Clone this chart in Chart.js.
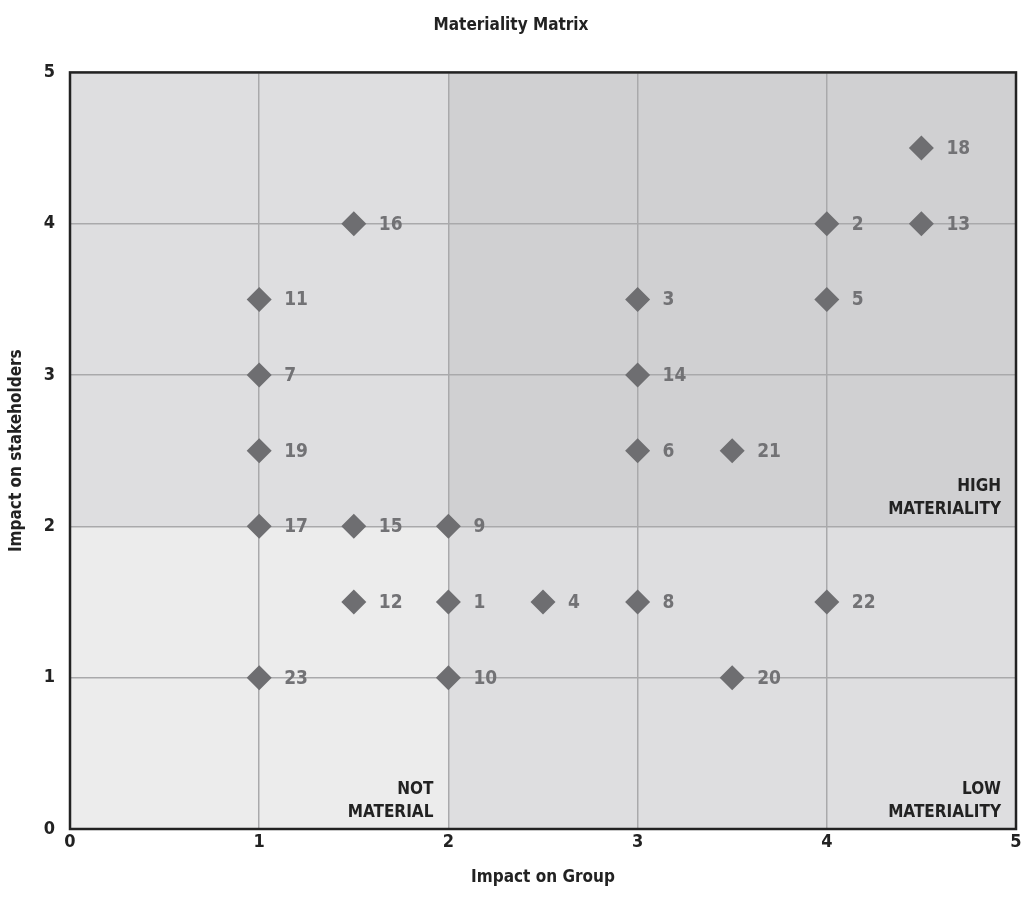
<!DOCTYPE html>
<html>
<head>
<meta charset="utf-8">
<script src="https://cdn.jsdelivr.net/npm/chart.js@4.4.1/dist/chart.umd.min.js"></script>
<style>
  html, body { margin: 0; padding: 0; background: #fff; }
  #wrap { width: 1029px; height: 900px; }
</style>
</head>
<body>
<div id="wrap"><canvas id="matrix"></canvas></div>
<script>
const FONT = '"Liberation Sans Narrow", "DejaVu Sans Condensed", "Roboto", sans-serif';

const issueIds = ['1', '2', '3', '4', '5', '6', '7', '8', '9', '10', '11', '12',
  '13', '14', '15', '16', '17', '18', '19', '20', '21', '22', '23'];
const impactOnGroup = [2, 4, 3, 2.5, 4, 3, 1, 3, 2, 2, 1, 1.5,
  4.5, 3, 1.5, 1.5, 1, 4.5, 1, 3.5, 3.5, 4, 1];
const impactOnStakeholders = [1.5, 4, 3.5, 1.5, 3.5, 2.5, 3, 1.5, 2, 1, 3.5, 1.5,
  4, 3, 2, 4, 2, 4.5, 2.5, 1, 2.5, 1.5, 1];
const tickValues = [0, 1, 2, 3, 4, 5];

// zones: [xMin, xMax, yMin, yMax, colour]
const zones = [
  [0, 2, 0, 2, '#ececec'],
  [0, 2, 2, 5, '#dedee0'],
  [2, 5, 0, 2, '#dedee0'],
  [2, 5, 2, 5, '#d0d0d2']
];
const zoneLabels = [
  { lines: ['HIGH', 'MATERIALITY'], x: 5, y: 2 },
  { lines: ['NOT', 'MATERIAL'], x: 2, y: 0 },
  { lines: ['LOW', 'MATERIALITY'], x: 5, y: 0 }
];

const points = impactOnGroup.map((x, i) => ({ x, y: impactOnStakeholders[i] }));

const matrixPlugin = {
  id: 'matrix',
  beforeDraw(chart) {
    const { ctx, scales: { x, y } } = chart;
    ctx.save();
    zones.forEach(z => {
      const left = x.getPixelForValue(z[0]);
      const right = x.getPixelForValue(z[1]);
      const top = y.getPixelForValue(z[3]);
      const bottom = y.getPixelForValue(z[2]);
      ctx.fillStyle = z[4];
      ctx.fillRect(left, top, right - left, bottom - top);
    });
    ctx.restore();
  },
  afterDatasetsDraw(chart) {
    const { ctx, chartArea, scales: { x, y } } = chart;
    ctx.save();
    // labels next to the markers
    ctx.font = 'bold 19px ' + FONT;
    ctx.fillStyle = '#727275';
    ctx.textBaseline = 'middle';
    ctx.textAlign = 'left';
    const meta = chart.getDatasetMeta(0);
    meta.data.forEach((el, i) => {
      ctx.fillText(issueIds[i], el.x + 25, el.y + 1);
    });
    // zone captions
    ctx.font = 'bold 17px ' + FONT;
    ctx.fillStyle = '#222';
    ctx.textAlign = 'right';
    ctx.textBaseline = 'alphabetic';
    zoneLabels.forEach(z => {
      const px = x.getPixelForValue(z.x) - 15;
      const py = y.getPixelForValue(z.y) - 12;
      ctx.fillText(z.lines[1], px, py);
      ctx.fillText(z.lines[0], px, py - 23);
    });
    // frame
    ctx.strokeStyle = '#222';
    ctx.lineWidth = 2.5;
    ctx.strokeRect(chartArea.left, chartArea.top,
      chartArea.right - chartArea.left, chartArea.bottom - chartArea.top);
    ctx.restore();
  }
};

new Chart(document.getElementById('matrix'), {
  type: 'scatter',
  data: {
    datasets: [{
      data: points,
      pointStyle: 'rectRot',
      pointRadius: 12.5,
      pointHoverRadius: 12.5,
      backgroundColor: '#6e6e71',
      borderColor: '#6e6e71',
      borderWidth: 0
    }]
  },
  options: {
    responsive: true,
    maintainAspectRatio: false,
    animation: false,
    layout: { padding: { right: 13, left: 6, bottom: 12, top: 0 } },
    plugins: {
      legend: { display: false },
      tooltip: { enabled: false },
      title: {
        display: true,
        text: 'Materiality Matrix',
        color: '#222',
        font: { family: FONT, size: 17, weight: 'bold' },
        padding: { top: 15, bottom: 37 }
      }
    },
    scales: {
      x: {
        type: 'linear',
        min: 0,
        max: 5,
        afterBuildTicks: (s) => { s.ticks = tickValues.map(v => ({ value: v })); },
        afterFit: (s) => { s.height = 59; },
        ticks: {
          color: '#222',
          font: { family: FONT, size: 18, weight: 'bold' },
          padding: 3,
          maxRotation: 0
        },
        grid: { color: '#a9a9ab', lineWidth: 1.5, drawTicks: false },
        border: { display: false },
        title: {
          display: true,
          text: 'Impact on Group',
          color: '#222',
          font: { family: FONT, size: 17, weight: 'bold' },
          padding: { top: 8, bottom: 0 }
        }
      },
      y: {
        type: 'linear',
        min: 0,
        max: 5,
        afterBuildTicks: (s) => { s.ticks = tickValues.map(v => ({ value: v })); },
        afterFit: (s) => { s.width = 64; },
        ticks: {
          color: '#222',
          font: { family: FONT, size: 18, weight: 'bold' },
          padding: 15
        },
        grid: { color: '#a9a9ab', lineWidth: 1.5, drawTicks: false },
        border: { display: false },
        title: {
          display: true,
          text: 'Impact on stakeholders',
          color: '#222',
          font: { family: FONT, size: 17, weight: 'bold' },
          padding: { top: 0, bottom: 0 }
        }
      }
    }
  },
  plugins: [matrixPlugin]
});
</script>
</body>
</html>
